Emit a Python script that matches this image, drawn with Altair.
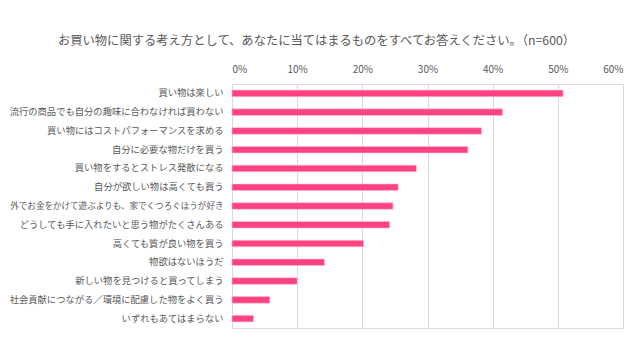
import altair as alt
import pandas as pd

categories = [
    "買い物は楽しい",
    "流行の商品でも自分の趣味に合わなければ買わない",
    "買い物にはコストパフォーマンスを求める",
    "自分に必要な物だけを買う",
    "買い物をするとストレス発散になる",
    "自分が欲しい物は高くても買う",
    "外でお金をかけて遊ぶよりも、家でくつろぐほうが好き",
    "どうしても手に入れたいと思う物がたくさんある",
    "高くても質が良い物を買う",
    "物欲はないほうだ",
    "新しい物を見つけると買ってしまう",
    "社会貢献につながる／環境に配慮した物をよく買う",
    "いずれもあてはまらない",
]
values = [50.8, 41.5, 38.3, 36.2, 28.3, 25.5, 24.7, 24.2, 20.2, 14.2, 10.0, 5.8, 3.3]
x_ticks = [0, 10, 20, 30, 40, 50, 60]

df = pd.DataFrame({"item": categories, "pct": values})
FONT = "Noto Sans CJK JP"
GRAY = "#595959"

label_size = {
    "condition": {"test": "length(datum.label) > 24", "value": 8.55},
    "value": 9.3,
}

chart = alt.Chart(df).mark_bar(color="#FE4282", stroke="#FFC0D5", strokeWidth=0.6).encode(
    x=alt.X("pct:Q",
            scale=alt.Scale(domain=[0, 60], nice=False),
            axis=alt.Axis(orient="top", values=x_ticks, labelExpr="datum.value + '%'",
                          title=None, domain=False, ticks=False, labelPadding=10,
                          labelFontSize=10, labelColor=GRAY, labelFont=FONT,
                          gridColor="#D9D9D9", gridWidth=1)),
    y=alt.Y("item:N", sort=categories,
            scale=alt.Scale(paddingInner=0.65, paddingOuter=0.325),
            axis=alt.Axis(title=None, domain=False, ticks=False, grid=False,
                          labelPadding=9, labelFontSize=label_size, labelColor=GRAY,
                          labelFont=FONT, labelLimit=400)),
).properties(
    width=391,
    height=244,
    title=alt.TitleParams(
        "お買い物に関する考え方として、あなたに当てはまるものをすべてお答えください。（n=600）",
        anchor="middle", dx=-111, offset=17, fontSize=12.3, font=FONT, color=GRAY,
        fontWeight="normal"),
    autosize=alt.AutoSizeParams(type="none"),
    padding={"left": 224, "top": 76, "right": 9, "bottom": 20},
).configure_view(stroke=None).configure(background="white")

chart.save("out.html", embed_options={"renderer": "svg", "actions": False})
